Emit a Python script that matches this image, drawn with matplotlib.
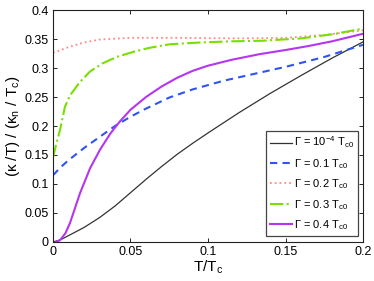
import numpy as np
import matplotlib
matplotlib.use('Agg')
import matplotlib.pyplot as plt

plt.rcParams['font.family'] = ['Liberation Sans', 'DejaVu Sans']
plt.rcParams['mathtext.fontset'] = 'custom'
plt.rcParams['mathtext.rm'] = 'Liberation Sans'
plt.rcParams['mathtext.it'] = 'Liberation Sans'

# values
t_k = [0, 0.005, 0.01, 0.02, 0.03, 0.04, 0.05, 0.06, 0.07, 0.08, 0.09, 0.1,
       0.12, 0.14, 0.16, 0.18, 0.2]
g_k = [0, 0.004, 0.011, 0.025, 0.042, 0.062, 0.085, 0.108, 0.130, 0.151,
       0.170, 0.188, 0.223, 0.256, 0.287, 0.317, 0.345]

t_b = [0, 0.005, 0.01, 0.02, 0.03, 0.04, 0.05, 0.06, 0.075, 0.09, 0.11,
       0.13, 0.15, 0.175, 0.2]
g_b = [0.115, 0.129, 0.141, 0.162, 0.181, 0.2, 0.216, 0.23, 0.249, 0.263,
       0.278, 0.29, 0.302, 0.319, 0.34]

t_r = [0, 0.005, 0.01, 0.02, 0.03, 0.05, 0.08, 0.12, 0.15, 0.175, 0.2]
g_r = [0.326, 0.331, 0.336, 0.344, 0.349, 0.352, 0.352, 0.351, 0.352,
       0.357, 0.365]

t_g = [0, 0.002, 0.0045, 0.0077, 0.011, 0.0174, 0.0239, 0.032, 0.041,
       0.052, 0.0626, 0.0755, 0.095, 0.115, 0.135, 0.16, 0.18, 0.2]
g_g = [0.145, 0.168, 0.193, 0.233, 0.253, 0.276, 0.294, 0.308, 0.319,
       0.328, 0.335, 0.341, 0.344, 0.346, 0.347, 0.351, 0.358, 0.368]

t_m = [0.002, 0.0045, 0.008, 0.011, 0.0174, 0.0239, 0.0303, 0.037, 0.0432,
       0.05, 0.06, 0.07, 0.08, 0.09, 0.1, 0.115, 0.1335, 0.15, 0.165, 0.18,
       0.2]
g_m = [0, 0.003, 0.015, 0.033, 0.084, 0.127, 0.159, 0.187, 0.208,
       0.228, 0.25, 0.268, 0.283, 0.295, 0.304, 0.314, 0.324, 0.331, 0.338,
       0.346, 0.359]

labels = [r'$\Gamma$ = 10$^{-4}$ T$_{\rm c0}$',
          r'$\Gamma$ = 0.1 T$_{\rm c0}$',
          r'$\Gamma$ = 0.2 T$_{\rm c0}$',
          r'$\Gamma$ = 0.3 T$_{\rm c0}$',
          r'$\Gamma$ = 0.4 T$_{\rm c0}$']

fig = plt.figure(figsize=(3.74, 2.81), dpi=100)
ax = fig.add_axes([0.1417, 0.1388, 0.8289, 0.8256])

ax.plot(t_k, g_k, '-', color='#333333', lw=0.9, label=labels[0])
ax.plot(t_b, g_b, '--', color='#2f55f0', lw=1.5, dashes=(3.5, 2.5), label=labels[1])
ax.plot(t_r, g_r, ':', color='#ff8a8a', lw=1.3, label=labels[2])
ax.plot(t_g, g_g, '-.', color='#77e000', lw=1.5, label=labels[3])
ax.plot(t_m, g_m, '-', color='#b535f0', lw=1.5, label=labels[4])

ax.set_xlim(0, 0.2)
ax.set_ylim(0, 0.4)
ax.set_xticks([0, 0.05, 0.1, 0.15, 0.2])
ax.set_xticklabels(['0', '0.05', '0.1', '0.15', '0.2'])
ax.set_yticks([0, 0.05, 0.1, 0.15, 0.2, 0.25, 0.3, 0.35, 0.4])
ax.set_yticklabels(['0', '0.05', '0.1', '0.15', '0.2', '0.25', '0.3', '0.35', '0.4'])
ax.tick_params(direction='in', top=True, right=True, labelsize=9, length=3,
               width=0.6, pad=3)
for s in ax.spines.values():
    s.set_linewidth(0.8)
    s.set_color('#222222')

ax.set_xlabel(r'T/T$_{\rm c}$', fontsize=11, labelpad=0)
ax.set_ylabel(r'($\kappa$ /T) / ($\kappa_{\rm n}$ / T$_{\rm c}$)', fontsize=11, labelpad=2)

leg = ax.legend(loc='lower right', bbox_to_anchor=(0.984, 0.026), fontsize=8,
                handlelength=2.0, handletextpad=0.15, borderpad=0.35,
                labelspacing=0.6, fancybox=False, framealpha=1,
                borderaxespad=0)
leg.get_frame().set_edgecolor('#444444')
leg.get_frame().set_linewidth(0.9)

fig.savefig('out.png', dpi=100)
